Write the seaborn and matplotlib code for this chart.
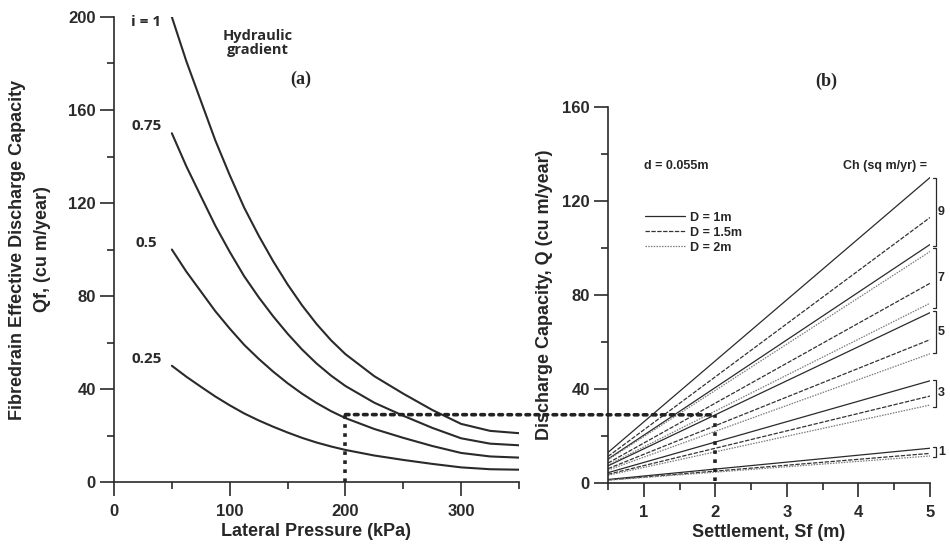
import pandas as pd
import seaborn as sns
import matplotlib.pyplot as plt
from matplotlib.patches import ConnectionPatch
from matplotlib.ticker import MultipleLocator

# (a) effective discharge capacity vs lateral pressure, one curve per hydraulic gradient
pressure = [50, 62.5, 75, 87.5, 100, 112.5, 125, 137.5, 150, 162.5, 175, 187.5,
            200, 225, 250, 275, 300, 325, 350]
qf_i100 = [200, 181, 164, 147, 132, 118, 106, 95, 85, 76, 68, 61,
           55, 45.5, 38, 31, 25, 22, 21]
qf_i075 = [150, 135.8, 123, 110.3, 99, 88.5, 79.5, 71.3, 63.8, 57, 51, 45.8,
           41.3, 34.1, 28.5, 23.3, 18.8, 16.5, 15.8]
qf_i050 = [100, 90.5, 82, 73.5, 66, 59, 53, 47.5, 42.5, 38, 34, 30.5,
           27.5, 22.8, 19, 15.5, 12.5, 11, 10.5]
qf_i025 = [50, 45.3, 41, 36.8, 33, 29.5, 26.5, 23.8, 21.3, 19, 17, 15.3,
           13.8, 11.4, 9.5, 7.8, 6.3, 5.5, 5.3]
gradient_labels = ["i = 1", "0.75", "0.5", "0.25"]

# (b) discharge capacity vs settlement, straight lines from Sf=0.5 to Sf=5
settlement = [0.5, 5.0]
ch_values = ["9", "7", "5", "3", "1"]
q_start_d1 = [13.0, 10.2, 7.3, 4.4, 1.5]
q_start_d15 = [11.3, 8.5, 6.1, 3.7, 1.3]
q_start_d2 = [9.9, 7.7, 5.5, 3.3, 1.2]
q_end_d1 = [130, 101.5, 72.5, 43.5, 14.8]
q_end_d15 = [113, 85, 61, 37, 12.6]
q_end_d2 = [98.5, 76.5, 55, 33.2, 11.5]
drain_labels = ["D = 1m", "D = 1.5m", "D = 2m"]
bracket_top = [130, 100, 73, 44, 15.3]
bracket_bottom = [101, 74.5, 55.5, 32.5, 11]

# dotted read-off guide
guide_p = 200
guide_q = 29
guide_sf = 2

sns.set_style("ticks")
plt.rcParams["font.family"] = ["Liberation Sans", "DejaVu Sans"]
plt.rcParams["font.weight"] = "bold"
plt.rcParams["axes.labelweight"] = "bold"
ink = "#2a2a2a"
plt.rcParams["axes.edgecolor"] = ink
plt.rcParams["xtick.color"] = ink
plt.rcParams["ytick.color"] = ink

fig = plt.figure(figsize=(9.5, 5.5), dpi=100)
ax1 = fig.add_axes([0.12, 0.1236, 0.4263, 0.8455])
ax2 = fig.add_axes([0.64, 0.1218, 0.339, 0.6836])

# left panel
curves = [qf_i100, qf_i075, qf_i050, qf_i025]
left_rows = []
for lab, vals in zip(gradient_labels, curves):
    for p, q in zip(pressure, vals):
        left_rows.append({"P": p, "Qf": q, "i": lab})
df_left = pd.DataFrame(left_rows)
sns.lineplot(data=df_left, x="P", y="Qf", units="i", estimator=None,
             color=ink, linewidth=1.5, legend=False, ax=ax1)

for lab, vals in zip(gradient_labels, curves):
    ax1.text(28, vals[0] - 2 if lab == "i = 1" else vals[0] + 3, lab,
             ha="center", va="center", fontsize=11, family="Open Sans",
             fontweight="bold", color=ink)
ax1.text(124, 189, "Hydraulic\ngradient", ha="center", va="center",
         fontsize=10.5, family="Open Sans", fontweight="bold", color=ink,
         linespacing=1.0)
ax1.text(161, 173, "(a)", ha="center", va="center", fontsize=13,
         family="Liberation Serif", fontweight="bold")

ax1.set_xlim(0, 350)
ax1.set_ylim(0, 200)
ax1.xaxis.set_major_locator(MultipleLocator(100))
ax1.xaxis.set_minor_locator(MultipleLocator(50))
ax1.yaxis.set_major_locator(MultipleLocator(40))
ax1.yaxis.set_minor_locator(MultipleLocator(20))
ax1.set_xlabel("Lateral Pressure (kPa)", fontsize=13, labelpad=3)
ax1.set_ylabel("Fibredrain Effective Discharge Capacity\nQf, (cu m/year)",
               fontsize=13, linespacing=1.6)
ax1.yaxis.set_label_coords(-0.155, 0.5)

# right panel
right_rows = []
for dlab, starts, ends in zip(drain_labels, [q_start_d1, q_start_d15, q_start_d2],
                              [q_end_d1, q_end_d15, q_end_d2]):
    for ch, q0, q1 in zip(ch_values, starts, ends):
        right_rows.append({"Sf": settlement[0], "Q": q0, "D": dlab, "Ch": ch})
        right_rows.append({"Sf": settlement[1], "Q": q1, "D": dlab, "Ch": ch})
df_right = pd.DataFrame(right_rows)
sns.lineplot(data=df_right, x="Sf", y="Q", hue="D", style="D", units="Ch",
             estimator=None, linewidth=0.9,
             palette={"D = 1m": ink, "D = 1.5m": "#333333", "D = 2m": "#7a7a7a"},
             dashes={"D = 1m": "", "D = 1.5m": (3.5, 1.2), "D = 2m": (1.2, 1.0)},
             ax=ax2)
sns.move_legend(ax2, "upper left", bbox_to_anchor=(0.115, 0.722), frameon=False,
                title=None, fontsize=9, handlelength=3.2, handletextpad=0.4,
                labelspacing=0.25, borderaxespad=0, borderpad=0)

for top, bot, ch in zip(bracket_top, bracket_bottom, ch_values):
    ax2.plot([5.04, 5.085, 5.085, 5.04], [top, top, bot, bot], color=ink,
             linewidth=0.9, clip_on=False)
    ax2.text(5.11, (top + bot) / 2, ch, ha="left", va="center", fontsize=9,
             clip_on=False)

ax2.text(1.0, 135, "d = 0.055m", ha="left", va="center", fontsize=9)
ax2.text(3.78, 135, "Ch (sq m/yr) =", ha="left", va="center", fontsize=9,
         clip_on=False)
ax2.text(3.55, 171, "(b)", ha="center", va="center", fontsize=13,
         family="Liberation Serif", fontweight="bold", clip_on=False)

ax2.set_xlim(0.5, 5)
ax2.set_ylim(0, 160)
ax2.xaxis.set_major_locator(MultipleLocator(1))
ax2.xaxis.set_minor_locator(MultipleLocator(0.5))
ax2.yaxis.set_major_locator(MultipleLocator(40))
ax2.yaxis.set_minor_locator(MultipleLocator(20))
ax2.set_xlabel("Settlement, Sf (m)", fontsize=13, labelpad=3)
ax2.set_ylabel("Discharge Capacity, Q (cu m/year)", fontsize=13)
ax2.yaxis.set_label_coords(-0.17, 0.5)

for ax in (ax1, ax2):
    sns.despine(ax=ax)
    ax.spines["left"].set_linewidth(1.2)
    ax.spines["bottom"].set_linewidth(1.2)
    ax.tick_params(which="major", direction="out", length=10, width=1.2,
                   labelsize=12)
    ax.tick_params(which="minor", direction="out", length=5, width=1.2)
    ax.tick_params(axis="x", which="major", pad=6)
    ax.tick_params(axis="y", which="major", pad=3)

# dotted guide: vertical on both panels, horizontal across the gap
dot = dict(color="#222222", linewidth=2.6, linestyle=(0, (1, 1.5)))
ax1.plot([guide_p, guide_p], [0, guide_q], clip_on=False, **dot)
ax2.plot([guide_sf, guide_sf], [1, guide_q], **dot)
link = ConnectionPatch(xyA=(guide_p, guide_q), coordsA="data", axesA=ax1,
                       xyB=(guide_sf, guide_q), coordsB="data", axesB=ax2,
                       zorder=10, **dot)
fig.add_artist(link)

fig.savefig("out.png", dpi=100)
